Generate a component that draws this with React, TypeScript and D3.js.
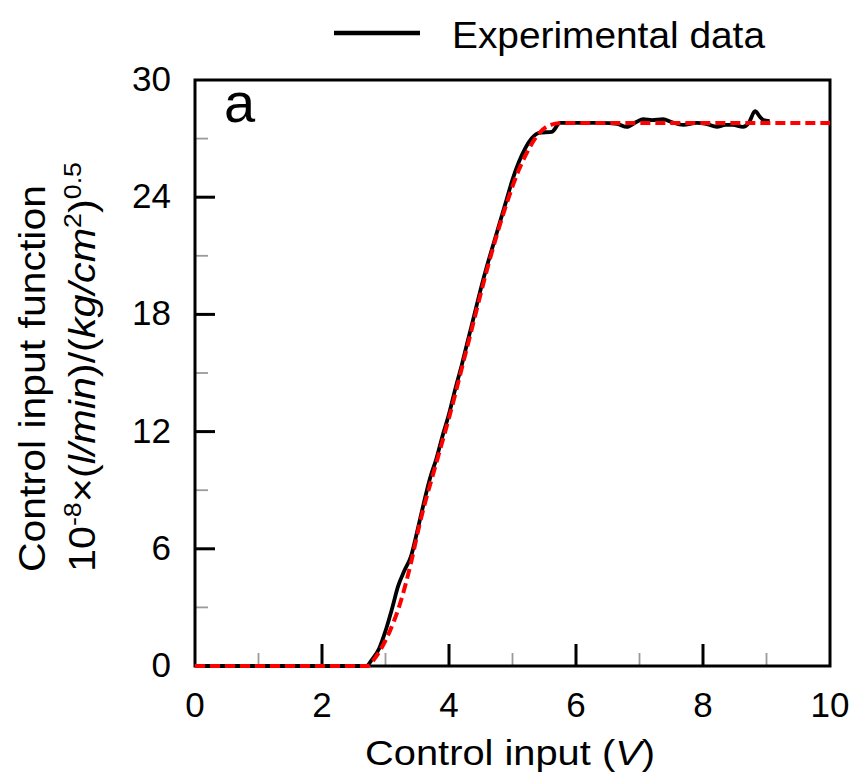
import React from "react";
import * as d3 from "d3";

const expX = [0, 2.7, 2.78, 2.9, 3.0, 3.1, 3.2, 3.3, 3.4, 3.5, 3.6, 3.7, 3.8, 3.9, 4.0, 4.1, 4.2, 4.3, 4.4, 4.5, 4.6, 4.7, 4.8, 4.9, 5.0, 5.1, 5.2, 5.3, 5.43, 5.62, 5.75, 6.0, 6.4, 6.65, 6.8, 6.95, 7.06, 7.2, 7.37, 7.5, 7.69, 7.9, 8.05, 8.22, 8.35, 8.47, 8.63, 8.72, 8.82, 8.9, 8.95, 9.05];
const expY = [0, 0, 0.3, 0.9, 1.8, 2.9, 4.1, 4.9, 5.6, 6.9, 8.3, 9.6, 10.6, 11.8, 12.9, 14.2, 15.4, 16.7, 18.0, 19.3, 20.5, 21.6, 22.7, 23.8, 24.9, 25.8, 26.5, 27.0, 27.3, 27.35, 27.8, 27.8, 27.8, 27.75, 27.6, 27.85, 28.0, 27.95, 28.0, 27.85, 27.7, 27.8, 27.75, 27.6, 27.7, 27.7, 27.6, 27.8, 28.4, 28.1, 27.95, 27.9];

const modelX = [0, 2.72, 2.81, 2.95, 3.07, 3.23, 3.41, 3.54, 3.8, 4.0, 4.3, 4.65, 4.9, 5.1, 5.23, 5.4, 5.6, 5.8, 10];
const modelY = [0, 0, 0.3, 1.0, 1.8, 3.2, 5.4, 7.3, 10.4, 12.7, 16.5, 20.9, 23.6, 25.4, 26.3, 27.2, 27.7, 27.8, 27.8];

const xMajorTicks = [0, 2, 4, 6, 8, 10];
const xMinorTicks = [1, 3, 5, 7, 9];
const yMajorTicks = [0, 6, 12, 18, 24, 30];
const yMinorTicks = [3, 9, 15, 21, 27];

const legendLabel = "Experimental data";
const panelLabel = "a";

const FONT = "'Liberation Sans', Arial, Helvetica, sans-serif";

export default function App() {
  const left = 195, right = 830, top = 80, bottom = 666;
  const x = d3.scaleLinear().domain([0, 10]).range([left, right]);
  const y = d3.scaleLinear().domain([0, 30]).range([bottom, top]);

  const expData = expX.map((v, i) => [v, expY[i]] as [number, number]);
  const modelData = modelX.map((v, i) => [v, modelY[i]] as [number, number]);

  const line = d3
    .line<[number, number]>()
    .x((d) => x(d[0]))
    .y((d) => y(d[1]))
    .curve(d3.curveMonotoneX);

  return (
    <svg
      width={851}
      height={776}
      style={{ position: "absolute", left: 0, top: 0, background: "#fff" }}
      fontFamily={FONT}
    >
      <rect x={0} y={0} width={851} height={776} fill="#fff" />
      {/* minor ticks */}
      {xMinorTicks.map((t) => (
        <line key={"xm" + t} x1={x(t)} x2={x(t)} y1={bottom} y2={bottom - 13} stroke="#9a9a9a" strokeWidth={1.8} />
      ))}
      {yMinorTicks.map((t) => (
        <line key={"ym" + t} x1={left} x2={left + 13} y1={y(t)} y2={y(t)} stroke="#9a9a9a" strokeWidth={1.8} />
      ))}
      {/* major ticks */}
      {xMajorTicks.slice(1, -1).map((t) => (
        <line key={"xM" + t} x1={x(t)} x2={x(t)} y1={bottom} y2={bottom - 22} stroke="#000" strokeWidth={3} />
      ))}
      {yMajorTicks.slice(1, -1).map((t) => (
        <line key={"yM" + t} x1={left} x2={left + 20} y1={y(t)} y2={y(t)} stroke="#000" strokeWidth={3} />
      ))}
      {/* frame */}
      <rect x={left} y={top} width={right - left} height={bottom - top} fill="none" stroke="#000" strokeWidth={3} />

      {/* data */}
      <path d={line(expData) || ""} fill="none" stroke="#000" strokeWidth={3.8} strokeLinejoin="round" />
      <path d={line(modelData) || ""} fill="none" stroke="#ff0000" strokeWidth={4} strokeDasharray="10 5" />

      {/* tick labels */}
      {xMajorTicks.map((t) => (
        <text key={"xl" + t} x={x(t)} y={717} textAnchor="middle" fontSize={35} fill="#000">
          {t}
        </text>
      ))}
      {yMajorTicks.map((t) => (
        <text key={"yl" + t} x={171} y={y(t) + 11} textAnchor="end" fontSize={35} fill="#000">
          {t}
        </text>
      ))}

      {/* panel label */}
      <text x={224} y={122} fontSize={56} fill="#000">{panelLabel}</text>

      {/* legend */}
      <line x1={334} x2={420} y1={33} y2={33} stroke="#000" strokeWidth={4.5} />
      <text x={452} y={48} fontSize={36} textLength={313} lengthAdjust="spacingAndGlyphs" fill="#000">
        {legendLabel}
      </text>

      {/* x title */}
      <text x={365} y={765} fontSize={35} textLength={290} lengthAdjust="spacingAndGlyphs" fill="#000">
        Control input (<tspan fontStyle="italic">V</tspan>)
      </text>

      {/* y title */}
      <text
        transform="translate(45,572) rotate(-90)"
        fontSize={37}
        textLength={387}
        lengthAdjust="spacingAndGlyphs"
        fill="#000"
      >
        Control input function
      </text>
      <text
        transform="translate(95,572) rotate(-90)"
        fontSize={37}
        textLength={410}
        lengthAdjust="spacingAndGlyphs"
        fill="#000"
      >
        10<tspan fontSize={24} dy={-14}>-8</tspan>
        <tspan dy={14}>×(</tspan>
        <tspan fontStyle="italic">l/min</tspan>
        <tspan>)/(</tspan>
        <tspan fontStyle="italic">kg/cm</tspan>
        <tspan fontSize={24} dy={-14}>2</tspan>
        <tspan dy={14}>)</tspan>
        <tspan fontSize={24} dy={-14}>0.5</tspan>
      </text>
    </svg>
  );
}
